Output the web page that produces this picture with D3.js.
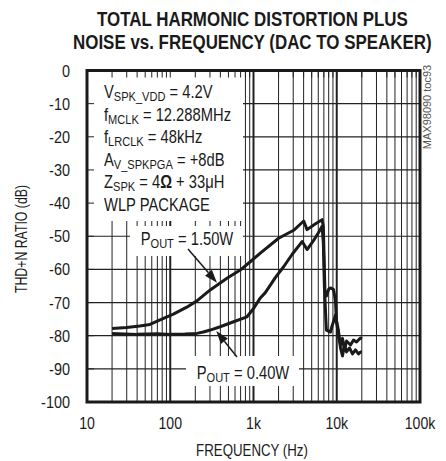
<!DOCTYPE html>
<html>
<head>
<meta charset="utf-8">
<script src="https://cdn.jsdelivr.net/npm/d3@7"></script>
<style>
  html, body { margin: 0; padding: 0; background: #fff; }
  svg { display: block; }
  text { font-family: "Liberation Sans", Arial, sans-serif; fill: #1a1a1a; }
</style>
</head>
<body>
<svg id="chart" width="446" height="461"></svg>
<script>
// THD+N vs frequency, two output power levels
const freq150 = [20, 30, 43, 57, 83, 109, 158, 209, 302, 480, 693, 914, 1207, 2004, 3036, 4008, 4400, 5500, 6670, 6900, 7210, 7520, 8000, 8400, 9120, 9640, 9910, 10470, 11090, 11720, 12390, 13100, 14630, 15890, 17260, 19280, 20000];
const thd150  = [-77.8, -77.5, -77.1, -76.6, -74.8, -73.5, -71.4, -69.5, -66.2, -62.7, -60.2, -57.7, -55.1, -50.6, -48.2, -45.4, -48.0, -46.3, -45.0, -47.0, -66.2, -68.0, -66.0, -65.6, -66.0, -69.2, -75.3, -80.0, -82.8, -80.8, -84.3, -81.6, -82.8, -81.3, -81.9, -80.7, -81.0];

const freq040 = [20, 40, 70, 100, 150, 209, 250, 302, 398, 576, 835, 1003, 1207, 1387, 1829, 2302, 2904, 3835, 4400, 5200, 6000, 6670, 6900, 7100, 7400, 7520, 8400, 8800, 9120, 9640, 10000, 10470, 11090, 11720, 12390, 13100, 14230, 15460, 16790, 18240, 19280, 20000];
const thd040  = [-79.3, -79.6, -79.4, -79.6, -79.5, -79.3, -78.9, -78.3, -77.3, -75.8, -74.3, -71.8, -68.6, -67.0, -62.5, -59.2, -55.5, -51.6, -54.0, -51.5, -49.0, -47.0, -52.0, -65.0, -75.0, -78.3, -78.9, -77.0, -75.9, -73.8, -76.0, -78.3, -83.7, -86.1, -82.8, -84.9, -83.7, -85.5, -84.3, -85.5, -84.9, -85.0];

const yTicks = [0, -10, -20, -30, -40, -50, -60, -70, -80, -90, -100];
const xTicks = [10, 100, 1000, 10000, 100000];
const xTickLabels = ["10", "100", "1k", "10k", "100k"];

const svg = d3.select("#chart");
const L = 87, R = 420, T = 70.5, B = 402;

const x = d3.scaleLog().domain([10, 100000]).range([L, R]);
const y = d3.scaleLinear().domain([-100, 0]).range([B, T]);

// horizontally condensed text, anchored at (px, py)
function ctext(parent, px, py, sx, anchor, size) {
  return parent.append("g").attr("transform", `translate(${px},${py}) scale(${sx},1)`)
    .append("text").attr("text-anchor", anchor || "start").style("font-size", (size || 17) + "px");
}

// title, squeezed to its set width
const titleLines = [
  { s: "TOTAL HARMONIC DISTORTION PLUS", x: 97, y: 26, w: 311 },
  { s: "NOISE vs. FREQUENCY (DAC TO SPEAKER)", x: 73, y: 48.5, w: 359 }
];
titleLines.forEach(t => {
  const g = svg.append("g");
  const el = g.append("text").style("font-weight", "bold").style("font-size", "21px").text(t.s);
  const natural = el.node().getComputedTextLength();
  g.attr("transform", `translate(${t.x},${t.y}) scale(${t.w / natural},1)`);
});

// grid
const minor = [];
for (let d = 10; d < 100000; d *= 10) for (let k = 2; k <= 9; k++) minor.push(d * k);
const major = [100, 1000, 10000];
const grid = svg.append("g").attr("stroke", "#222");
grid.selectAll(".vmin").data(minor).join("line")
  .attr("x1", d => x(d)).attr("x2", d => x(d)).attr("y1", T).attr("y2", B)
  .attr("stroke-width", 1);
grid.selectAll(".vmaj").data(major).join("line")
  .attr("x1", d => x(d)).attr("x2", d => x(d)).attr("y1", T).attr("y2", B)
  .attr("stroke-width", 2);
grid.selectAll(".h").data(yTicks.slice(1, -1)).join("line")
  .attr("x1", L).attr("x2", R).attr("y1", d => y(d)).attr("y2", d => y(d))
  .attr("stroke-width", 1.2);

// white panels behind annotations
const boxes = [
  [L, T, 243, 221],
  [130, 226, 243, 256],
  [186, 356, 299, 386]
];
svg.append("g").selectAll("rect").data(boxes).join("rect")
  .attr("x", d => d[0]).attr("y", d => d[1])
  .attr("width", d => d[2] - d[0]).attr("height", d => d[3] - d[1])
  .attr("fill", "#fff");

// short border ticks
const ticks = svg.append("g").attr("stroke", "#222").attr("stroke-width", 1);
ticks.selectAll(".tt").data(minor.concat(major)).join("line")
  .attr("x1", d => x(d)).attr("x2", d => x(d)).attr("y1", T).attr("y2", T + 7);
ticks.selectAll(".lt").data(yTicks.slice(1, -1)).join("line")
  .attr("x1", L).attr("x2", L + 7).attr("y1", d => y(d)).attr("y2", d => y(d));

// frame
svg.append("rect").attr("x", L).attr("y", T).attr("width", R - L).attr("height", B - T)
  .attr("fill", "none").attr("stroke", "#1a1a1a").attr("stroke-width", 3);

// axis labels
yTicks.forEach(v => ctext(svg, 70, y(v) + 6, 0.85, "end", 17).text(v));
xTicks.forEach((v, i) => ctext(svg, x(v), 429, 0.83, "middle", 17).text(xTickLabels[i]));
ctext(svg, 252, 456, 0.83, "middle", 16).text("FREQUENCY (Hz)");
svg.append("g").attr("transform", "translate(27,239) rotate(-90) scale(0.77,1)")
  .append("text").attr("text-anchor", "middle").style("font-size", "16px").text("THD+N RATIO (dB)");
svg.append("text").attr("transform", "translate(431,107) rotate(-90)")
  .attr("text-anchor", "middle").style("font-size", "11px").style("fill", "#555")
  .text("MAX98090 toc93");

// curves
const line = d3.line().x(d => x(d[0])).y(d => y(d[1])).curve(d3.curveLinear);
const series = [d3.zip(freq150, thd150), d3.zip(freq040, thd040)];
svg.append("g").selectAll("path").data(series).join("path")
  .attr("d", line).attr("fill", "none").attr("stroke", "#1a1a1a")
  .attr("stroke-width", 3).attr("stroke-linejoin", "round");

// text with subscript runs: parts are [string, kind] with kind 1 = subscript, 2 = bold
function richText(t, parts, subSize) {
  let lowered = false;
  parts.forEach(([s, kind]) => {
    const ts = t.append("tspan").text(s);
    if (kind === 1) {
      ts.style("font-size", subSize + "px").attr("dy", lowered ? 0 : 3);
      lowered = true;
    } else {
      if (kind === 2) ts.style("font-weight", "bold");
      ts.attr("dy", lowered ? -3 : 0);
      lowered = false;
    }
  });
}

// conditions block
const cond = [
  [["V", 0], ["SPK_VDD", 1], [" = 4.2V", 0]],
  [["f", 0], ["MCLK", 1], [" = 12.288MHz", 0]],
  [["f", 0], ["LRCLK", 1], [" = 48kHz", 0]],
  [["A", 0], ["V_SPKPGA", 1], [" = +8dB", 0]],
  [["Z", 0], ["SPK", 1], [" = 4", 0], ["Ω", 2], [" + 33μH", 0]],
  [["WLP PACKAGE", 0]]
];
cond.forEach((parts, i) => richText(ctext(svg, 104, 98 + i * 22.5, 0.82, "start", 18), parts, 13.5));

// power labels with arrows
richText(ctext(svg, 187, 245, 0.82, "middle", 18), [["P", 0], ["OUT", 1], [" = 1.50W", 0]], 13.5);
richText(ctext(svg, 243, 379, 0.82, "middle", 18), [["P", 0], ["OUT", 1], [" = 0.40W", 0]], 13.5);

function arrow(x1, y1, x2, y2) {
  const a = Math.atan2(y2 - y1, x2 - x1), len = 13, w = 4.5;
  const bx = x2 - len * Math.cos(a), by = y2 - len * Math.sin(a);
  svg.append("line").attr("x1", x1).attr("y1", y1).attr("x2", bx).attr("y2", by)
    .attr("stroke", "#1a1a1a").attr("stroke-width", 1.5);
  svg.append("path").attr("fill", "#1a1a1a").attr("d",
    `M${x2},${y2}L${bx - w * Math.sin(a)},${by + w * Math.cos(a)}L${bx + w * Math.sin(a)},${by - w * Math.cos(a)}Z`);
}
arrow(188, 249, x(364), y(-64.0));
arrow(237, 357, x(357), y(-78.6));
</script>
</body>
</html>
